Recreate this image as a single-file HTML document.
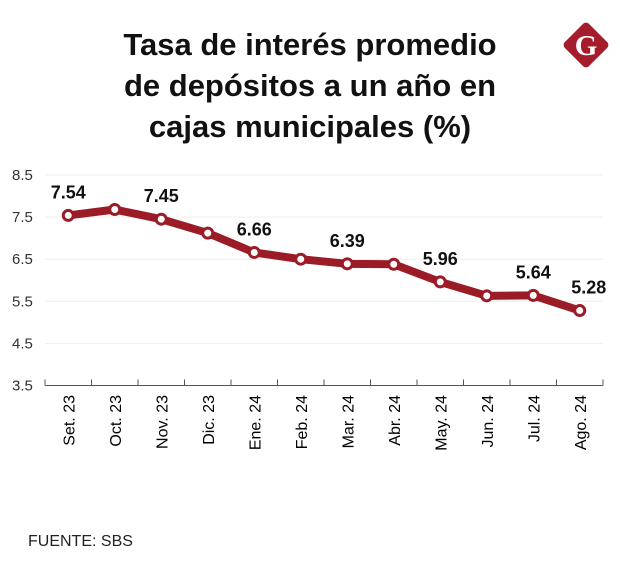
<!DOCTYPE html>
<html><head><meta charset="utf-8"><style>
body{margin:0;background:#fff;width:620px;height:571px;overflow:hidden;font-family:"Liberation Sans",sans-serif}
</style></head><body>
<svg width="620" height="571" viewBox="0 0 620 571">
<g font-weight="bold" font-size="31" text-anchor="middle" fill="#111">
<text x="310" y="55">Tasa de interés promedio</text>
<text x="310" y="96">de depósitos a un año en</text>
<text x="310" y="137">cajas municipales (%)</text>
</g>
<g>
<rect x="569" y="28" width="34" height="34" rx="4" fill="#a51d2c" transform="rotate(45 586 45)"/>
<text x="586" y="55" text-anchor="middle" font-size="29" font-weight="bold" font-family="Liberation Serif,serif" fill="#fff">G</text>
</g>
<g id="grid"></g>
<g id="yt" font-size="15" fill="#333"></g>
<g id="xa"></g>
<g id="series"></g>
<text x="28" y="546" font-size="16" fill="#222">FUENTE: SBS</text>
</svg>
<script>
const categories=["Set. 23","Oct. 23","Nov. 23","Dic. 23","Ene. 24","Feb. 24","Mar. 24","Abr. 24","May. 24","Jun. 24","Jul. 24","Ago. 24"];
const values=[7.54,7.68,7.45,7.12,6.66,6.50,6.39,6.38,5.96,5.63,5.64,5.28];
const showLabel=[true,false,true,false,true,false,true,false,true,false,true,true];
const yTicks=[3.5,4.5,5.5,6.5,7.5,8.5];
const NS="http://www.w3.org/2000/svg";
const x0=45,x1=603,yTop=175,yBot=385.5;
const xs=i=>x0+(x1-x0)/categories.length*(i+0.5);
const ys=v=>yBot-(v-3.5)/(8.5-3.5)*(yBot-yTop);
function mk(tag,attrs,parent){const e=document.createElementNS(NS,tag);for(const k in attrs)e.setAttribute(k,attrs[k]);parent.appendChild(e);return e;}
const grid=document.getElementById('grid'),yt=document.getElementById('yt'),xa=document.getElementById('xa'),ser=document.getElementById('series');
yTicks.forEach(t=>{
 if(t>3.5){const l=mk('line',{x1:x0,x2:x1,y1:ys(t),y2:ys(t),stroke:'#eee','stroke-width':1},grid);
 
 }
 const tx=mk('text',{x:12,y:ys(t)+5},yt);tx.textContent=t.toFixed(1);
 
 
});
const ax=mk('line',{x1:x0,x2:x1,y1:yBot,y2:yBot,stroke:'#555','stroke-width':1},xa);


for(let i=0;i<=categories.length;i++){const tk=mk('line',{x1:x0+(x1-x0)/categories.length*i,x2:x0+(x1-x0)/categories.length*i,y1:yBot-6,y2:yBot,stroke:'#555'},xa);
 
 }
categories.forEach((c,i)=>{const t=mk('text',{x:0,y:0,'font-size':16,fill:'#000','text-anchor':'end',transform:`translate(${xs(i)+6},395) rotate(-90)`},xa);t.textContent=c;
 
 });
const pl=mk('polyline',{points:values.map((v,i)=>xs(i)+','+ys(v)).join(' '),fill:'none',stroke:'#9b1b26','stroke-width':8,'stroke-linejoin':'round'},ser);


values.forEach((v,i)=>{const c=mk('circle',{cx:xs(i),cy:ys(v),r:5,fill:'#fff',stroke:'#9b1b26','stroke-width':3},ser);
 
 
 if(showLabel[i]){const t=mk('text',{x:xs(i)+(i==11?9:0),y:ys(v)-17,'font-size':18,'font-weight':'bold',fill:'#111','text-anchor':'middle'},ser);t.textContent=v.toFixed(2);
 
 }
});
</script>
</body></html>
